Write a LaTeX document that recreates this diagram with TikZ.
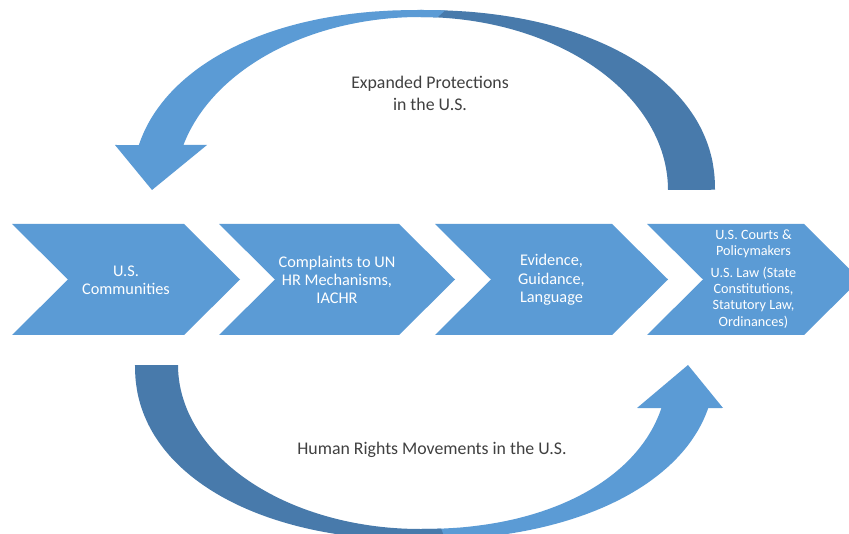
\documentclass[tikz,border=0pt]{standalone}
\usepackage{fontspec}
\setmainfont{Carlito}
\definecolor{frontblue}{HTML}{5B9BD5}
\definecolor{backblue}{RGB}{72,122,171}
\definecolor{labelgray}{RGB}{64,64,64}
\begin{document}
\begin{tikzpicture}[x=1pt,y=-1pt,
  stage/.style={fill=frontblue},
  frontpart/.style={fill=frontblue},
  backpart/.style={fill=backblue},
  stagetext/.style={text=white, align=center, inner sep=0pt,
    font=\fontsize{16.3}{18.3}\selectfont},
  smallstagetext/.style={stagetext, font=\fontsize{14.2}{16.4}\selectfont},
  cycletext/.style={text=labelgray, align=center, inner sep=0pt,
    font=\fontsize{17.8}{22}\selectfont}]
\useasboundingbox (0,0) rectangle (849,534);
\clip (0,0) rectangle (849,534);
\fill[white] (0,0) rectangle (849,534);

% process chevrons: left edge / tip
\foreach \L/\R in {12/240, 219/455, 435/668, 647/860}{
  \fill[stage] (\L,224) -- ({\R-56},224) -- (\R,279.5) -- ({\R-56},335)
    -- (\L,335) -- ({\L+56},279.5) -- cycle;
}

\node[stagetext] (s1) at (126,280) {U.S.\\Communities};
\node[stagetext] (s2) at (337,280) {Complaints to UN\\HR Mechanisms,\\IACHR};
\node[stagetext] (s3) at (551.5,280) {Evidence,\\Guidance,\\Language};
\node[smallstagetext] (s4) at (753.5,279)
  {U.S. Courts \&\\Policymakers\\[5pt]U.S. Law (State\\Constitutions,\\Statutory Law,\\Ordinances)};

% upper curved arrow: back half (right), then front half with head (left)
\fill[backpart]
  plot[domain=0.05:89.95, samples=70] ({420+295*pow(cos(\x),0.93)},{190-180*pow(sin(\x),0.93)})
  -- plot[domain=89.95:0.05, samples=70] ({420+248*cos(\x)},{190-173*sin(\x)})
  -- cycle;
\fill[frontpart]
  plot[domain=86:89.95, samples=6] ({420+295*pow(cos(\x),0.93)},{190-180*pow(sin(\x),0.93)})
  -- plot[domain=89.95:13, samples=70] ({420-288*pow(cos(\x),0.93)},{190-180*pow(sin(\x),0.93)})
  -- (115,145) -- (152,190) -- (207,145)
  -- plot[domain=15.1:89.95, samples=70] ({420-245*cos(\x)},{190-173*sin(\x)})
  -- plot[domain=89.95:86, samples=6] ({420+248*cos(\x)},{190-173*sin(\x)})
  -- cycle;

% lower curved arrow: front half with head (right), then back half (left)
\fill[frontpart]
  plot[domain=89.95:12.77, samples=70] ({420+295*pow(cos(\x),0.93)},{365+175*pow(sin(\x),0.93)})
  -- (723,408) -- (688,365) -- (637,408)
  -- plot[domain=13.72:89.95, samples=70] ({420+248*pow(cos(\x),0.93)},{365+164*pow(sin(\x),0.93)})
  -- cycle;
\fill[backpart]
  plot[domain=0.05:89.95, samples=70] ({420-285*pow(cos(\x),0.93)},{365+175*pow(sin(\x),0.93)})
  -- plot[domain=89.95:86, samples=6] ({420+295*pow(cos(\x),0.93)},{365+175*pow(sin(\x),0.93)})
  -- plot[domain=86:89.95, samples=6] ({420+248*pow(cos(\x),0.93)},{365+164*pow(sin(\x),0.93)})
  -- plot[domain=89.95:0.05, samples=70] ({420-242*cos(\x)},{365+164*sin(\x)})
  -- cycle;

\node[cycletext] (upper) at (430,93) {Expanded Protections\\in the U.S.};
\node[cycletext] (lower) at (432,450) {Human Rights Movements in the U.S.};
\end{tikzpicture}
\end{document}
